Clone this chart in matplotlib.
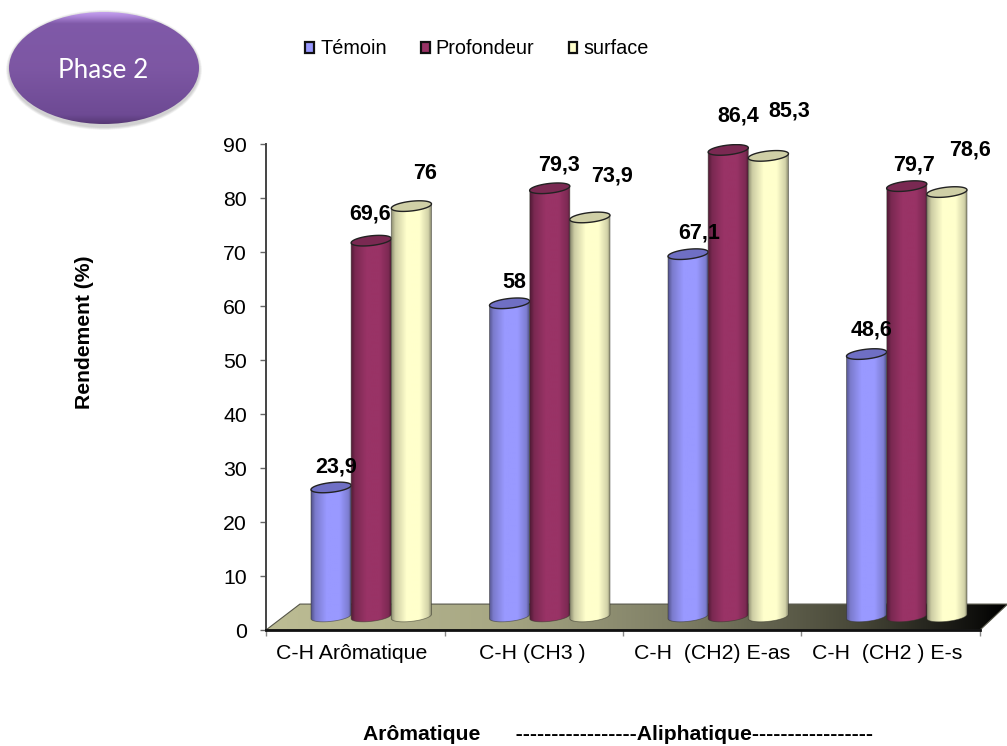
import numpy as np
import matplotlib
matplotlib.use("Agg")
import matplotlib.pyplot as plt
from matplotlib.patches import Ellipse, Patch, Polygon

categories = ["C-H Arômatique", "C-H (CH3 )", "C-H  (CH2) E-as", "C-H  (CH2 ) E-s"]
series_names = ["Témoin", "Profondeur", "surface"]
temoin = [23.9, 58, 67.1, 48.6]
profondeur = [69.6, 79.3, 86.4, 79.7]
surface = [76, 73.9, 85.3, 78.6]

colors = ["#9999ff", "#993366", "#ffffcc"]
top_colors = ["#6f6fc4", "#7a2952", "#cfcfa6"]

# decalage des etiquettes (pixels) par rapport au haut de chaque barre
label_dx = [[5, -1, 14], [5, 9, 22], [11, 10, 21], [5, 7, 23]]
label_dy = [[20, 27, 33], [21, 23, 41], [21, 34, 45], [24, 21, 42]]
# position des noms de categories sur l'axe
cat_pos = [0.482, 1.490, 2.498, 3.479]

plt.rcParams["font.family"] = ["Liberation Sans", "DejaVu Sans"]

W, H = 1007, 746
fig = plt.figure(figsize=(W / 100, H / 100), dpi=100)
ax = fig.add_axes([266 / W, (H - 630) / H, 714 / W, 486 / H])
ax.patch.set_visible(False)

BASE = 2.5       # pied des cylindres au-dessus du zero
BAR_W = 0.225
BAR_START = 0.252
ELL_B = 0.9      # demi-hauteur de l'ellipse, unites de y
ELL_TILT = 0.4


def shade(color, stops, factors, n=64):
    rgb = np.array(matplotlib.colors.to_rgb(color))
    t = np.linspace(0, 1, n)
    f = np.interp(t, stops, factors)
    return np.clip(rgb[None, None, :] * f[None, :, None], 0, 1)


def cylinder(x0, value, color, top_color, z):
    cx = x0 + BAR_W / 2
    a = BAR_W / 2
    t = np.linspace(0, 2 * np.pi, 80)
    top = value + BASE

    # corps du cylindre, avec l'arrondi du bas
    tb = np.linspace(np.pi, 2 * np.pi, 40)
    low_x = cx + a * np.cos(tb)
    low_y = BASE + ELL_B * np.sin(tb) + ELL_TILT * np.cos(tb)
    body = np.column_stack([
        np.r_[x0, low_x, x0 + BAR_W],
        np.r_[top - ELL_TILT, low_y, top + ELL_TILT],
    ])
    grad = shade(color, [0, 0.1, 0.38, 0.7, 0.92, 1], [0.55, 0.8, 1, 1, 0.82, 0.5])
    im = ax.imshow(grad, extent=(x0, x0 + BAR_W, BASE - 2, top + 1), aspect="auto",
                   interpolation="bilinear", zorder=z)
    poly = Polygon(body, closed=True, fc="none", ec=(0.2, 0.2, 0.16, 0.55), lw=0.6, zorder=z + 0.1)
    ax.add_patch(poly)
    im.set_clip_path(poly)

    ax.add_patch(Polygon(
        np.column_stack([cx + a * np.cos(t), top + ELL_B * np.sin(t) + ELL_TILT * np.cos(t)]),
        closed=True, fc=top_color, ec="#222222", lw=1.0, zorder=z + 0.2))


# plancher
floor = Polygon([(0, 0), (4, 0), (4.155, 4.8), (0.19, 4.8)], closed=True,
                fc="none", ec="#555548", lw=0.8, zorder=1.1)
ax.add_patch(floor)
floor_t = np.linspace(0, 1, 128)
floor_rgb = np.column_stack([
    np.interp(floor_t, [0, 0.3, 0.55, 0.8, 0.96, 1], c)
    for c in ([0.74, 0.66, 0.5, 0.28, 0.06, 0.0],
              [0.74, 0.66, 0.5, 0.28, 0.06, 0.0],
              [0.58, 0.52, 0.40, 0.22, 0.05, 0.0])
])[None, :, :]
im_floor = ax.imshow(floor_rgb, extent=(0, 4.155, 0, 4.8), aspect="auto",
                     interpolation="bilinear", zorder=1)
im_floor.set_clip_path(floor)
im_floor.set_clip_box(fig.bbox)
floor.set_clip_on(False)

# barres et etiquettes
for i in range(len(categories)):
    vals = [temoin[i], profondeur[i], surface[i]]
    for j, v in enumerate(vals):
        x0 = i + BAR_START + j * BAR_W
        cylinder(x0, v, colors[j], top_colors[j], 3 + j)
        ax.annotate(str(v).replace(".", ","), xy=(x0 + BAR_W / 2, v + BASE),
                    xytext=(label_dx[i][j], label_dy[i][j]), textcoords="offset pixels",
                    ha="center", va="center", fontsize=15.5, fontweight="bold",
                    color="black", zorder=10, annotation_clip=False)

ax.set_xlim(0, 4)
ax.set_ylim(0, 90)
ax.set_yticks(np.arange(0, 91, 10))
ax.set_xticks(np.arange(0, 5))
ax.set_xticklabels([])
ax.set_xticks(cat_pos, categories, minor=True)
ax.tick_params(axis="y", length=4.3, width=1, color="#666666", labelsize=15.3, pad=9.4)
ax.tick_params(axis="x", which="major", length=4, width=1, color="#888888")
ax.tick_params(axis="x", which="minor", length=0, labelsize=15.3, pad=10)
for s in ["top", "right"]:
    ax.spines[s].set_visible(False)
ax.spines["left"].set_color("#444444")
ax.spines["left"].set_linewidth(1.4)
ax.spines["bottom"].set_color("#111111")
ax.spines["bottom"].set_linewidth(2)

fig.text(84 / W, 1 - 332 / H, "Rendement (%)", rotation=90, ha="center", va="center",
         fontsize=15.25, fontweight="bold")
fig.text(618 / W, 1 - 735 / H, "Arômatique      -----------------Aliphatique-----------------",
         ha="center", va="center", fontsize=15.25, fontweight="bold")

handles = [Patch(fc=c, ec="#111111", lw=1.6) for c in colors]
fig.legend(handles, series_names, ncol=3, frameon=False, fontsize=14.3,
           loc="center", bbox_to_anchor=(477 / W, 1 - 49 / H),
           handlelength=0.45, handleheight=0.45, handletextpad=0.3, columnspacing=1.72)

# bulle "Phase 2"
ax_bulle = fig.add_axes([0, 0, 1, 1], zorder=-1)
ax_bulle.axis("off")
for k in range(6):
    ax_bulle.add_patch(Ellipse((104, 70), 190 + 6 - k, 112 + 8 - k,
                               fc="#000000", ec="none", alpha=0.03))
v_t = np.array([0, 0.03, 0.1, 0.5, 0.92, 1])
v_c = np.array([[0.76, 0.62, 0.93], [0.70, 0.55, 0.87], [0.50, 0.35, 0.66],
                [0.49, 0.34, 0.64], [0.43, 0.29, 0.58], [0.34, 0.22, 0.46]])
bubble_rgb = np.column_stack([np.interp(np.linspace(0, 1, 128), v_t, v_c[:, n]) for n in range(3)])[:, None, :]
ell = Ellipse((104, 68), 190, 112, fc="none", ec="none")
ax_bulle.add_patch(ell)
im_b = ax_bulle.imshow(bubble_rgb, extent=(9, 199, 124, 12), aspect="auto",
                       interpolation="bilinear", zorder=2)
im_b.set_clip_path(ell)
ax_bulle.set_xlim(0, W)
ax_bulle.set_ylim(H, 0)
ax_bulle.text(103, 70, "Phase 2", color="white", fontsize=18.8, ha="center", va="center",
              family=["Lato", "DejaVu Sans"], zorder=3)

fig.savefig("out.png", dpi=100)
